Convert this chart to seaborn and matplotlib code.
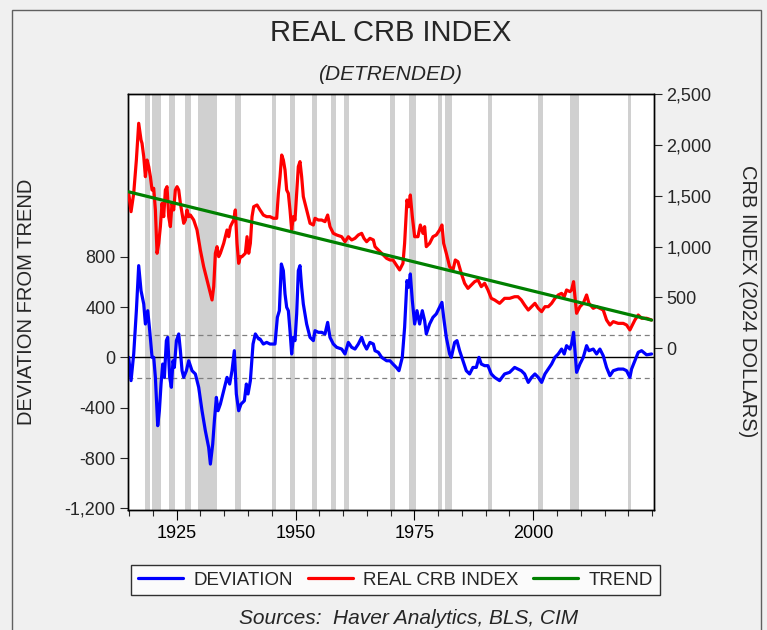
import numpy as np
import pandas as pd
import seaborn as sns
import matplotlib.pyplot as plt
from matplotlib.lines import Line2D
from matplotlib.patches import Rectangle
from matplotlib.ticker import FuncFormatter, MultipleLocator

# ---------------------------------------
# Data
# ---------------------------------------
real_years = [
    1914.90, 1915.39, 1915.95, 1916.51, 1917.00, 1917.49, 1917.70, 1918.06, 1918.41, 1918.76,
    1919.11, 1919.46, 1919.81, 1920.16, 1920.51, 1920.86, 1921.21, 1921.56, 1921.91, 1922.26,
    1922.61, 1922.96, 1923.31, 1923.66, 1924.01, 1924.36, 1924.71, 1925.07, 1925.42, 1925.77,
    1926.12, 1926.47, 1926.82, 1927.17, 1927.52, 1927.87, 1928.57, 1929.27, 1929.97, 1930.67,
    1931.37, 1932.08, 1932.43, 1932.78, 1933.13, 1933.48, 1933.83, 1934.18, 1934.88, 1935.58,
    1935.93, 1936.28, 1936.98, 1937.33, 1937.68, 1938.03, 1938.38, 1938.73, 1939.44, 1939.79,
    1940.14, 1940.49, 1940.84, 1941.19, 1941.89, 1942.52, 1943.22, 1943.92, 1944.62, 1945.32,
    1946.03, 1946.38, 1946.73, 1947.08, 1947.43, 1947.78, 1948.13, 1948.48, 1948.83, 1949.18,
    1949.53, 1949.88, 1950.23, 1950.58, 1950.93, 1951.28, 1951.63, 1952.33, 1953.04, 1953.74,
    1954.09, 1954.79, 1955.49, 1956.19, 1956.75, 1957.24, 1957.94, 1958.64, 1959.70, 1960.40,
    1961.10, 1961.80, 1962.50, 1963.20, 1963.90, 1964.39, 1964.95, 1965.65, 1966.36, 1966.71,
    1967.41, 1968.11, 1969.16, 1969.86, 1970.49, 1971.19, 1971.89, 1972.59, 1972.94, 1973.43,
    1973.78, 1974.14, 1974.56, 1975.05, 1975.75, 1976.24, 1976.80, 1977.15, 1977.50, 1978.20,
    1978.90, 1979.60, 1980.30, 1980.79, 1981.15, 1981.71, 1982.41, 1983.11, 1983.60, 1984.16,
    1984.86, 1985.56, 1986.26, 1986.96, 1987.67, 1988.37, 1989.07, 1989.77, 1990.47, 1991.17,
    1991.87, 1992.92, 1993.97, 1995.03, 1996.08, 1996.78, 1997.48, 1998.18, 1998.95, 1999.65,
    2000.35, 2001.05, 2001.76, 2002.46, 2003.16, 2003.86, 2004.56, 2005.26, 2005.96, 2006.52,
    2007.01, 2007.71, 2008.06, 2008.48, 2008.77, 2009.12, 2009.82, 2010.52, 2011.22, 2011.71,
    2012.62, 2013.32, 2014.02, 2014.72, 2015.42, 2016.13, 2016.83, 2017.88, 2018.93, 2019.63,
    2020.33, 2020.68, 2021.38, 2022.08, 2022.79, 2023.84, 2024.89,
]
real_index = [
    1523, 1343, 1523, 1851, 2212, 2048, 2015, 1884, 1687, 1851,
    1786, 1687, 1556, 1573, 1360, 934, 1032, 1196, 1425, 1294,
    1556, 1589, 1294, 1196, 1425, 1360, 1556, 1589, 1556, 1425,
    1327, 1229, 1261, 1360, 1294, 1310, 1261, 1163, 966, 802,
    671, 540, 475, 606, 934, 999, 901, 934, 1032, 1163,
    1097, 1196, 1261, 1360, 1032, 835, 901, 901, 934, 1097,
    934, 1032, 1294, 1392, 1409, 1360, 1310, 1294, 1294, 1278,
    1278, 1523, 1687, 1900, 1851, 1753, 1556, 1523, 1360, 1163,
    1294, 1261, 1523, 1786, 1835, 1687, 1491, 1360, 1229, 1212,
    1278, 1261, 1261, 1245, 1310, 1196, 1130, 1114, 1097, 1048,
    1097, 1065, 1081, 1114, 1130, 1081, 1048, 1081, 1065, 999,
    966, 934, 884, 868, 868, 819, 770, 835, 1032, 1458,
    1392, 1507, 1294, 1097, 1097, 1212, 1130, 1196, 999, 1032,
    1097, 1114, 1163, 1212, 1032, 934, 802, 770, 868, 851,
    737, 639, 589, 622, 655, 671, 606, 639, 573, 491,
    475, 442, 491, 491, 507, 507, 475, 425, 376, 409,
    442, 393, 360, 409, 409, 442, 491, 524, 540, 507,
    573, 557, 573, 655, 507, 344, 409, 442, 524, 442,
    393, 409, 393, 376, 278, 229, 262, 245, 245, 229,
    180, 213, 278, 327, 295, 295, 278,
]

dev_years = [
    1914.90, 1915.39, 1915.95, 1916.51, 1917.00, 1917.49, 1918.06, 1918.41, 1918.90, 1919.32,
    1919.81, 1920.16, 1920.51, 1921.00, 1921.35, 1921.70, 1922.05, 1922.40, 1922.82, 1923.10,
    1923.52, 1923.87, 1924.22, 1924.50, 1924.93, 1925.42, 1925.77, 1926.12, 1926.47, 1927.03,
    1927.52, 1928.22, 1928.92, 1929.62, 1930.32, 1931.02, 1931.72, 1932.08, 1932.57, 1932.92,
    1933.34, 1933.69, 1934.18, 1934.88, 1935.58, 1936.14, 1936.63, 1937.12, 1937.54, 1938.03,
    1938.53, 1939.23, 1939.65, 1940.00, 1940.49, 1941.05, 1941.54, 1942.24, 1942.52, 1943.22,
    1943.92, 1944.62, 1945.67, 1946.17, 1946.59, 1947.01, 1947.43, 1947.78, 1948.13, 1948.48,
    1948.83, 1949.18, 1949.53, 1949.88, 1950.23, 1950.58, 1950.93, 1951.28, 1951.63, 1952.33,
    1953.04, 1953.74, 1954.09, 1954.79, 1955.49, 1956.19, 1956.75, 1957.24, 1957.94, 1958.64,
    1959.70, 1960.40, 1961.10, 1961.80, 1962.50, 1963.20, 1963.90, 1964.39, 1964.95, 1965.65,
    1966.36, 1966.71, 1967.41, 1968.11, 1969.16, 1969.86, 1970.49, 1971.19, 1971.75, 1972.45,
    1972.94, 1973.43, 1973.78, 1974.14, 1974.56, 1975.05, 1975.54, 1976.10, 1976.66, 1977.15,
    1977.50, 1978.20, 1978.90, 1979.60, 1980.30, 1980.79, 1981.15, 1981.71, 1982.41, 1982.76,
    1983.46, 1983.95, 1984.51, 1985.21, 1985.91, 1986.61, 1987.31, 1988.02, 1988.58, 1989.07,
    1989.77, 1990.47, 1991.17, 1991.87, 1992.92, 1993.97, 1995.03, 1996.08, 1996.78, 1997.48,
    1998.18, 1998.95, 1999.65, 2000.35, 2001.05, 2001.76, 2002.46, 2003.16, 2003.86, 2004.56,
    2005.26, 2005.96, 2006.52, 2007.01, 2007.71, 2008.06, 2008.48, 2008.77, 2009.12, 2009.82,
    2010.52, 2011.22, 2011.71, 2012.62, 2013.32, 2014.02, 2014.72, 2015.42, 2016.13, 2016.83,
    2017.88, 2018.93, 2019.63, 2020.33, 2020.68, 2021.38, 2022.08, 2022.79, 2023.84, 2024.89,
]
deviation = [
    0, -185, 27, 371, 729, 530, 424, 265, 371, 212,
    0, 0, -159, -543, -424, -212, -53, -159, 133, 159,
    -159, -238, -27, -80, 133, 186, 53, -106, -159, -106,
    -27, -106, -132, -238, -424, -583, -716, -848, -689, -504,
    -318, -424, -371, -265, -159, -212, -106, 53, -291, -424,
    -371, -345, -212, -291, -186, 106, 186, 146, 146, 106,
    119, 106, 106, 318, 371, 742, 689, 504, 398, 371,
    212, 27, 159, 133, 345, 689, 729, 557, 424, 265,
    159, 133, 212, 199, 199, 186, 278, 159, 106, 80,
    66, 27, 119, 80, 66, 106, 159, 106, 66, 119,
    106, 53, 40, 0, -27, -27, -53, -80, -106, 0,
    239, 610, 557, 663, 451, 265, 371, 265, 371, 292,
    186, 265, 318, 345, 398, 437, 318, 159, 27, 0,
    119, 133, 53, -27, -106, -132, -80, -80, 0, -53,
    -66, -66, -132, -159, -185, -132, -119, -80, -93, -106,
    -132, -199, -159, -132, -159, -199, -132, -93, -53, 0,
    27, 66, 27, 93, 66, 106, 199, 53, -119, -53,
    0, 93, 53, 66, 27, 66, 13, -80, -146, -106,
    -93, -93, -106, -159, -93, -27, 40, 53, 20, 27,
]

trend_years = [1914.90, 2024.89]
trend_values = [1538, 277]

# +/- band lines on the deviation axis
band_upper = 180
band_lower = -164

# recession shading (start, end)
recessions = [
    (1918.4, 1919.3), (1919.9, 1921.7), (1923.3, 1924.7), (1926.7, 1928.0),
    (1929.5, 1933.4), (1937.3, 1938.6), (1945.0, 1945.9), (1948.8, 1949.9),
    (1953.4, 1954.5), (1957.5, 1958.4), (1960.2, 1961.2), (1969.8, 1971.0),
    (1973.8, 1975.3), (1979.9, 1980.7), (1981.4, 1983.0), (1990.4, 1991.3),
    (2001.1, 2002.0), (2007.8, 2009.6), (2020.0, 2020.5),
]

# ---------------------------------------
# Styling
# ---------------------------------------
sns.set_style("white")
plt.rcParams['font.family'] = ['Liberation Sans', 'DejaVu Sans']
plt.rcParams['axes.edgecolor'] = 'black'
plt.rcParams['axes.linewidth'] = 1.0

W, H = 767, 630
fig = plt.figure(figsize=(W / 100, H / 100), dpi=100, facecolor='#f0f0f0')
ax = fig.add_axes([128 / W, 1 - 510 / H, (654 - 128) / W, (510 - 94) / H])
ax.set_facecolor('white')
ax2 = ax.twinx()

# ---------------------------------------
# Recession bands and reference lines
# ---------------------------------------
for start, end in recessions:
    ax.axvspan(start, end, color='#d0d0d0', lw=0, zorder=0)

ax.axhline(0, color='black', lw=1.0, zorder=1)
ax.axhline(band_upper, color='#808080', lw=0.9, ls=(0, (4, 3)), zorder=1)
ax.axhline(band_lower, color='#808080', lw=0.9, ls=(0, (4, 3)), zorder=1)

# ---------------------------------------
# Lines
# ---------------------------------------
sns.lineplot(x=dev_years, y=deviation, ax=ax, color='#0000ff', lw=2.3, zorder=3)
sns.lineplot(x=real_years, y=real_index, ax=ax2, color='#ff0000', lw=2.3, zorder=3)
sns.lineplot(x=trend_years, y=trend_values, ax=ax2, color='#008000', lw=2.3, zorder=4)

# ---------------------------------------
# Axes
# ---------------------------------------
ax.set_xlim(1914.75, 2025.4)
ax.set_ylim(-1213, 2093)
ax2.set_ylim(-1590, 2500)

comma = FuncFormatter(lambda v, p: f"{v:,.0f}")
ax.set_yticks([-1200, -800, -400, 0, 400, 800])
ax.yaxis.set_major_formatter(comma)
ax2.set_yticks([0, 500, 1000, 1500, 2000, 2500])
ax2.yaxis.set_major_formatter(comma)

ax.set_xticks([1925, 1950, 1975, 2000])
ax.xaxis.set_minor_locator(MultipleLocator(5))

ax.tick_params(axis='x', which='major', direction='out', length=7, width=0.8, pad=4,
               labelsize=13, bottom=True, colors='black')
ax.tick_params(axis='x', which='minor', direction='out', length=4.5, width=0.8, bottom=True)
ax.tick_params(axis='y', direction='out', length=6, width=0.8, pad=3, labelsize=13, left=True)
ax2.tick_params(axis='y', direction='out', length=6, width=0.8, pad=3, labelsize=13, right=True)

ax.set_xlabel('')
ax.set_ylabel('')
ax2.set_ylabel('')
for a in (ax, ax2):
    for s in a.spines.values():
        s.set_color('black')
        s.set_linewidth(1.0)

# ---------------------------------------
# Titles and Labels
# ---------------------------------------
fig.text(391 / W, 1 - 33 / H, 'REAL CRB INDEX', ha='center', va='center', fontsize=21)
fig.text(390 / W, 1 - 75 / H, '(DETRENDED)', ha='center', va='center', fontsize=15,
         style='italic')
fig.text(27 / W, 1 - 302 / H, 'DEVIATION FROM TREND', rotation=90, ha='center',
         va='center', fontsize=14.5)
fig.text(748 / W, 1 - 301 / H, 'CRB INDEX (2024 DOLLARS)', rotation=270, ha='center',
         va='center', fontsize=14.5)
fig.text(409 / W, 2 / H, 'Sources:  Haver Analytics, BLS, CIM', ha='center',
         va='bottom', fontsize=15, style='italic')

# ---------------------------------------
# Legend
# ---------------------------------------
handles = [
    Line2D([], [], color='#0000ff', lw=2.3),
    Line2D([], [], color='#ff0000', lw=2.3),
    Line2D([], [], color='#008000', lw=2.3),
]
leg = fig.legend(handles, ['DEVIATION', 'REAL CRB INDEX', 'TREND'], loc='center',
                 bbox_to_anchor=(395.5 / W, 1 - 580 / H), ncol=3, fontsize=13.5,
                 frameon=True, fancybox=False, edgecolor='black', handlelength=2.4,
                 columnspacing=0.8, handletextpad=0.55, borderpad=0.35,
                 borderaxespad=0)
leg.get_frame().set_linewidth(1.0)
leg.get_frame().set_facecolor('white')

# outer frame
fig.patches.append(Rectangle((12 / W, -0.1), (761 - 12) / W, 1.1 - 10 / H,
                             transform=fig.transFigure, fill=False,
                             edgecolor='#606060', lw=1.0))

# ---------------------------------------
# Save Output
# ---------------------------------------
fig.savefig('out.png', dpi=100, facecolor=fig.get_facecolor())
plt.close(fig)
